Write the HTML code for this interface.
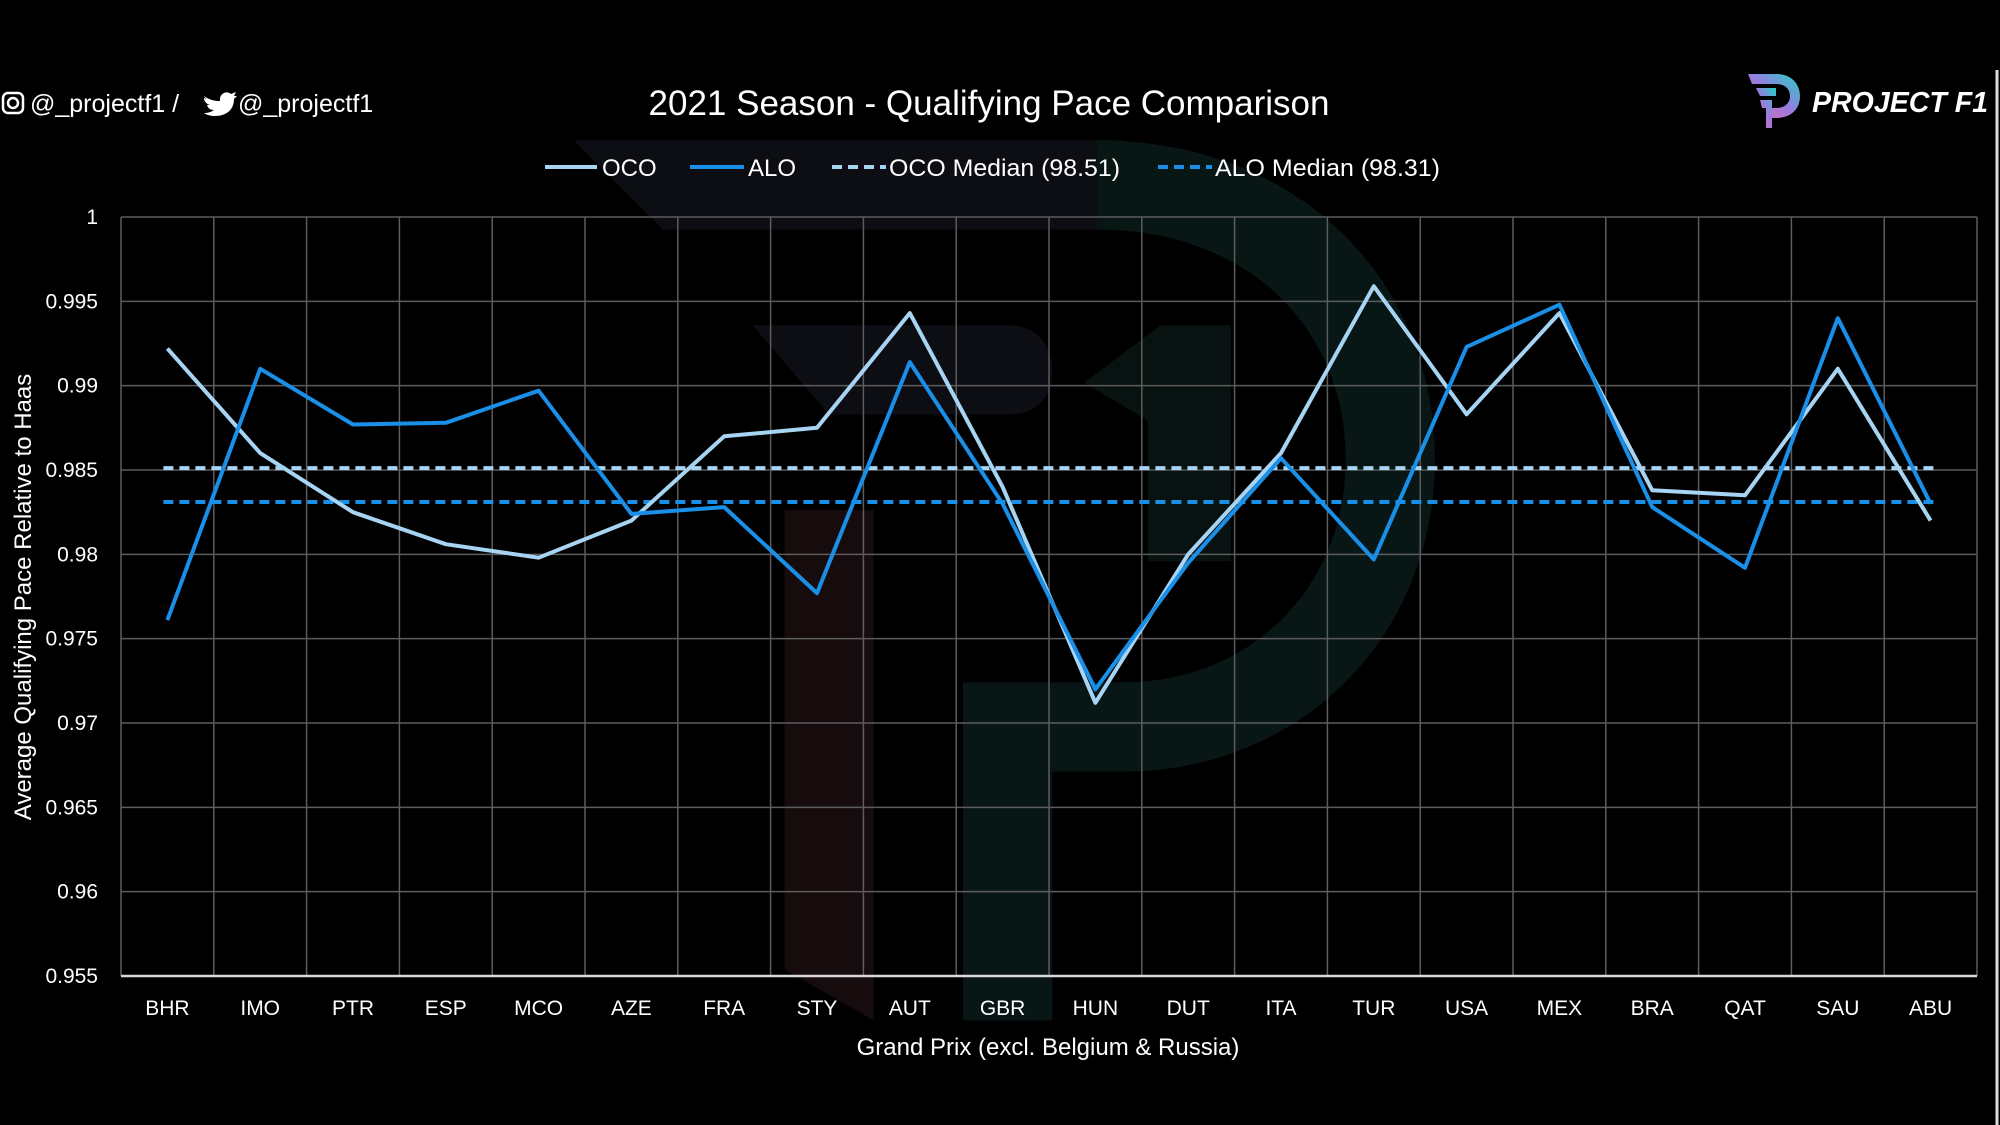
<!DOCTYPE html>
<html><head><meta charset="utf-8">
<style>
html,body{margin:0;padding:0;background:#000;}
svg{display:block;}
text{font-family:"Liberation Sans",sans-serif;fill:#fff;}
</style></head>
<body>
<svg id="s" width="2000" height="1125" viewBox="0 0 2000 1125" xmlns="http://www.w3.org/2000/svg">
<rect width="2000" height="1125" fill="#000"/>
<g transform="scale(1.2755)" opacity="0.55">
  <path d="M450,110 L880,110 L880,180 L520,180 Z" fill="#161a24"/>
  <path d="M860,145 C1000,145 1090,240 1090,360 C1090,480 1000,570 880,570 L790,570 L790,800" fill="none" stroke="#0f2a26" stroke-width="70"/>
  <path d="M590,255 L790,255 C820,255 825,280 825,290 C825,310 815,325 790,325 L650,325 Z" fill="#161a24"/>
  <path d="M850,300 L910,255 L965,255 L965,440 L900,440 L900,330 Z" fill="#10221f"/>
  <path d="M615,400 L685,400 L685,800 L615,760 Z" fill="#2a1618"/>
</g>
<g id="grid" stroke="#5c5c5c" stroke-width="1.5"></g>
<line x1="121" y1="976" x2="1977" y2="976" stroke="#d9d9d9" stroke-width="2.5"/>
<line x1="1997" y1="70" x2="1997" y2="1125" stroke="#ddd" stroke-width="3"/>
<g id="ylab" font-size="21" text-anchor="end"></g>
<g id="xlab" font-size="21" text-anchor="middle"></g>
<g id="series"></g>

<text x="989" y="115" font-size="35" text-anchor="middle">2021 Season - Qualifying Pace Comparison</text>
<text x="1048" y="1055" font-size="24" text-anchor="middle">Grand Prix (excl. Belgium &amp; Russia)</text>
<text transform="translate(31,597) rotate(-90)" font-size="24" text-anchor="middle">Average Qualifying Pace Relative to Haas</text>

<rect x="3" y="93" width="20" height="20" rx="5" fill="none" stroke="#fff" stroke-width="2.5"/>
<circle cx="13" cy="103" r="5" fill="none" stroke="#fff" stroke-width="2.5"/>
<text x="30" y="112" font-size="25">@_projectf1 /</text>
<path d="M204,96 C210,100 214,101 220,101 C219,94 226,90 231,94 L236,92 L234,96 L237,96 L234,99 C234,110 226,116 215,116 C211,116 207,115 204,113 C208,113 211,112 214,110 C210,110 208,108 207,105 L210,105 C206,104 204,101 204,98 L207,99 C204,97 204,96 204,96 Z" fill="#fff"/>
<text x="238" y="112" font-size="25">@_projectf1</text>

<defs><linearGradient id="lg" x1="0" y1="1" x2="1" y2="0"><stop offset="0" stop-color="#e36aa5"/><stop offset="0.5" stop-color="#9a7be0"/><stop offset="1" stop-color="#22d2c8"/></linearGradient></defs>
<path d="M1748,74 L1776,74 C1795,74 1800,88 1800,96 C1800,110 1790,118 1776,118 L1772,118 L1772,108 L1776,108 C1786,108 1790,102 1790,96 C1790,90 1786,84 1776,84 L1752,84 Z" fill="url(#lg)"/>
<path d="M1756,88 L1776,88 L1776,96 L1760,96 Z M1760,100 L1772,100 L1772,128 L1766,128 L1766,108 L1762,108 Z" fill="url(#lg)"/>
<text x="1812" y="112" font-size="29" font-weight="bold" font-style="italic" textLength="176" lengthAdjust="spacingAndGlyphs">PROJECT F1</text>

<g font-size="24">
<line x1="545" y1="167" x2="597" y2="167" stroke="#a6d4f2" stroke-width="4"/>
<text x="602" y="176">OCO</text>
<line x1="690" y1="167" x2="744" y2="167" stroke="#1a8fe8" stroke-width="4"/>
<text x="748" y="176">ALO</text>
<line x1="832" y1="167" x2="886" y2="167" stroke="#a6d4f2" stroke-width="4" stroke-dasharray="10,6"/>
<text x="889" y="176" textLength="231" lengthAdjust="spacingAndGlyphs">OCO Median (98.51)</text>
<line x1="1158" y1="167" x2="1212" y2="167" stroke="#1a8fe8" stroke-width="4" stroke-dasharray="10,6"/>
<text x="1215" y="176" textLength="225" lengthAdjust="spacingAndGlyphs">ALO Median (98.31)</text>
</g>
</svg>
<script>
const NS="http://www.w3.org/2000/svg";
const L=121,R=1977,T=217,B=976;
const y=v=>T+(1-v)/0.045*(B-T);
const cats=["BHR","IMO","PTR","ESP","MCO","AZE","FRA","STY","AUT","GBR","HUN","DUT","ITA","TUR","USA","MEX","BRA","QAT","SAU","ABU"];
const w=(R-L)/20;
const cx=i=>L+w*(i+0.5);
function el(t,a,p,txt){const e=document.createElementNS(NS,t);for(const k in a)e.setAttribute(k,a[k]);if(txt!==undefined)e.textContent=txt;p.appendChild(e);return e;}
const g=document.getElementById("grid");
for(let i=0;i<=9;i++){const v=1-i*0.005;const yy=y(v);
 if(i<9)el("line",{x1:L,y1:yy,x2:R,y2:yy},g);
 el("text",{x:98,y:yy+7},document.getElementById("ylab"),i==0?"1":v.toFixed(3).replace(/0+$/,""));}
for(let i=0;i<=20;i++){const xx=L+w*i;el("line",{x1:xx,y1:T,x2:xx,y2:B},g);}
cats.forEach((c,i)=>el("text",{x:cx(i),y:1015},document.getElementById("xlab"),c));
const oco=[0.9922,0.986,0.9825,0.9806,0.9798,0.982,0.987,0.9875,0.9943,0.984,0.9712,0.98,0.986,0.9959,0.9883,0.9943,0.9838,0.9835,0.991,0.982];
const alo=[0.9761,0.991,0.9877,0.9878,0.9897,0.9824,0.9828,0.9777,0.9914,0.983,0.972,0.9795,0.9857,0.9797,0.9923,0.9948,0.9828,0.9792,0.994,0.983];
const s=document.getElementById("series");
const pts=a=>a.map((v,i)=>cx(i).toFixed(1)+","+y(v).toFixed(1)).join(" ");
el("line",{x1:cx(0)-4,y1:y(0.98511),x2:cx(19)+4,y2:y(0.98511),stroke:"#a6d4f2","stroke-width":4,"stroke-dasharray":"10,6"},s);
el("line",{x1:cx(0)-4,y1:y(0.98310),x2:cx(19)+4,y2:y(0.98310),stroke:"#1a8fe8","stroke-width":4,"stroke-dasharray":"10,6"},s);
el("polyline",{points:pts(oco),fill:"none",stroke:"#a6d4f2","stroke-width":4,"stroke-linejoin":"round"},s);
el("polyline",{points:pts(alo),fill:"none",stroke:"#1a8fe8","stroke-width":4,"stroke-linejoin":"round"},s);
</script>
</body></html>
